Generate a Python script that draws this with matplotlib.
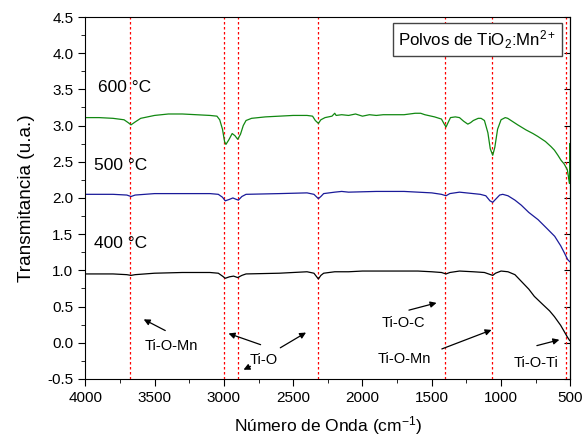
import numpy as np
import matplotlib
matplotlib.use('Agg')
import matplotlib.pyplot as plt
from matplotlib.ticker import MultipleLocator, FormatStrFormatter

plt.rcParams['font.family'] = ['Liberation Sans', 'DejaVu Sans']
plt.rcParams['mathtext.fontset'] = 'custom'
plt.rcParams['mathtext.rm'] = 'Liberation Sans'
plt.rcParams['mathtext.it'] = 'Liberation Sans:italic'

# spectra (wavenumber, transmittance)
wn_600 = [4000, 3900, 3800, 3720, 3690, 3670, 3640, 3600, 3500, 3400, 3300, 3200, 3100,
          3050, 3030, 3010, 2995, 2985, 2965, 2940, 2920, 2900, 2880, 2860, 2840, 2800,
          2700, 2600, 2500, 2400, 2360, 2340, 2318, 2300, 2270, 2220, 2200, 2190, 2150,
          2100, 2050, 2000, 1950, 1900, 1850, 1800, 1700, 1620, 1580, 1550, 1480, 1430,
          1410, 1397, 1385, 1365, 1330, 1300, 1270, 1240, 1220, 1200, 1165, 1144, 1120,
          1095, 1078, 1060, 1045, 1025, 1000, 970, 952, 920, 880, 820, 770, 735, 680,
          640, 615, 590, 567, 545, 522, 512, 506, 504, 502]
tr_600 = [3.11, 3.11, 3.10, 3.08, 3.04, 3.01, 3.05, 3.10, 3.14, 3.16, 3.16, 3.15, 3.14,
          3.13, 3.08, 2.95, 2.78, 2.74, 2.80, 2.89, 2.86, 2.81, 2.88, 3.00, 3.07, 3.10,
          3.12, 3.13, 3.14, 3.14, 3.13, 3.07, 3.03, 3.08, 3.11, 3.13, 3.17, 3.14, 3.15,
          3.14, 3.16, 3.13, 3.15, 3.14, 3.15, 3.15, 3.15, 3.17, 3.17, 3.15, 3.12, 3.09,
          3.02, 2.98, 3.03, 3.11, 3.12, 3.11, 3.06, 3.02, 3.04, 3.07, 3.10, 3.10, 3.07,
          2.90, 2.68, 2.59, 2.70, 2.95, 3.08, 3.11, 3.10, 3.06, 3.01, 2.94, 2.89, 2.85,
          2.78, 2.71, 2.66, 2.59, 2.52, 2.47, 2.39, 2.27, 2.20, 2.75, 2.45]

wn_500 = [4000, 3800, 3700, 3670, 3640, 3500, 3300, 3100, 3040, 3010, 2990, 2960, 2935,
          2910, 2895, 2870, 2840, 2600, 2400, 2350, 2318, 2300, 2280, 2200, 2150, 2100,
          1900, 1700, 1600, 1500, 1430, 1397, 1370, 1300, 1250, 1150, 1110, 1080, 1060,
          1040, 1010, 988, 950, 900, 854, 800, 733, 670, 613, 570, 543, 520, 505]
tr_500 = [2.05, 2.05, 2.04, 2.02, 2.04, 2.06, 2.06, 2.06, 2.05, 2.01, 1.96, 1.98, 2.00,
          1.98, 1.97, 2.02, 2.05, 2.06, 2.07, 2.05, 1.99, 2.02, 2.06, 2.08, 2.09, 2.08,
          2.09, 2.09, 2.08, 2.07, 2.05, 2.03, 2.06, 2.08, 2.07, 2.05, 2.03, 1.96, 1.94,
          1.98, 2.04, 2.05, 2.03, 1.97, 1.90, 1.80, 1.70, 1.58, 1.47, 1.34, 1.24, 1.15, 1.12]

wn_400 = [4000, 3800, 3700, 3670, 3640, 3500, 3300, 3100, 3040, 3010, 2990, 2960, 2930,
          2900, 2870, 2840, 2600, 2400, 2350, 2318, 2300, 2280, 2200, 2100, 2000, 1800,
          1600, 1500, 1430, 1397, 1370, 1300, 1200, 1120, 1060, 1040, 1000, 950, 900,
          860, 800, 760, 700, 650, 615, 570, 540, 522, 505]
tr_400 = [0.95, 0.95, 0.94, 0.93, 0.94, 0.96, 0.97, 0.97, 0.96, 0.92, 0.89, 0.91, 0.92,
          0.90, 0.93, 0.95, 0.96, 0.98, 0.96, 0.88, 0.93, 0.96, 0.98, 0.98, 0.99, 0.99,
          0.99, 0.98, 0.97, 0.95, 0.97, 0.99, 0.98, 0.97, 0.93, 0.96, 0.99, 0.98, 0.94,
          0.86, 0.74, 0.64, 0.53, 0.44, 0.36, 0.24, 0.14, 0.08, 0.03]

band_positions = [3676, 3000, 2900, 2320, 1402, 1066, 528]

fig = plt.figure(figsize=(5.88, 4.36), dpi=100)
ax = fig.add_axes([0.145, 0.131, 0.825, 0.830])

for b in band_positions:
    ax.axvline(b, color='red', ls=(0, (2, 2)), lw=0.9, zorder=1)

ax.plot(wn_400, tr_400, color='black', lw=0.9, zorder=2)
ax.plot(wn_500, tr_500, color='#1a1a99', lw=0.9, zorder=2)
ax.plot(wn_600, tr_600, color='#118811', lw=0.9, zorder=2)

ax.set_xlim(4000, 500)
ax.set_ylim(-0.5, 4.5)
ax.xaxis.set_major_locator(MultipleLocator(500))
ax.xaxis.set_minor_locator(MultipleLocator(250))
ax.yaxis.set_major_locator(MultipleLocator(0.5))
ax.yaxis.set_minor_locator(MultipleLocator(0.25))
ax.yaxis.set_major_formatter(FormatStrFormatter('%.1f'))
ax.tick_params(which='major', direction='out', length=5, labelsize=11)
ax.tick_params(which='minor', direction='out', length=3)

# inward ticks on the right side
sec = ax.secondary_yaxis('right')
sec.yaxis.set_major_locator(MultipleLocator(0.5))
sec.tick_params(direction='in', length=4, labelright=False)

ax.set_xlabel('Número de Onda (cm$^{-1}$)', fontsize=12.5, labelpad=7)
ax.set_ylabel('Transmitancia (u.a.)', fontsize=13.7, labelpad=9)

ax.text(3910, 3.53, '600 °C', fontsize=12.5, va='center')
ax.text(3940, 2.45, '500 °C', fontsize=12.5, va='center')
ax.text(3940, 1.37, '400 °C', fontsize=12.5, va='center')

ax.text(0.972, 0.937, 'Polvos de TiO$_2$:Mn$^{2+}$', transform=ax.transAxes,
        ha='right', va='center', fontsize=12.2,
        bbox=dict(boxstyle='square,pad=0.3', fc='white', ec='#444444', lw=1))

arrow = dict(arrowstyle='-|>', color='black', lw=0.9, mutation_scale=9)
ax.annotate('', xy=(3596, 0.34), xytext=(3405, 0.15), arrowprops=arrow)
ax.text(3380, -0.05, 'Ti-O-Mn', fontsize=10.5, ha='center', va='center')
ax.annotate('', xy=(2985, 0.14), xytext=(2716, -0.04), arrowprops=arrow)
ax.annotate('', xy=(2390, 0.16), xytext=(2610, -0.09), arrowprops=arrow)
ax.annotate('', xy=(2876, -0.39), xytext=(2790, -0.31), arrowprops=arrow)
ax.text(2716, -0.24, 'Ti-O', fontsize=10.5, ha='center', va='center')
ax.annotate('', xy=(1446, 0.56), xytext=(1684, 0.44), arrowprops=arrow)
ax.text(1706, 0.27, 'Ti-O-C', fontsize=10.5, ha='center', va='center')
ax.annotate('', xy=(1050, 0.19), xytext=(1446, -0.10), arrowprops=arrow)
ax.text(1698, -0.22, 'Ti-O-Mn', fontsize=10.5, ha='center', va='center')
ax.annotate('', xy=(560, 0.05), xytext=(761, -0.05), arrowprops=arrow)
ax.text(747, -0.28, 'Ti-O-Ti', fontsize=10.5, ha='center', va='center')

fig.savefig('out.png', dpi=100)
